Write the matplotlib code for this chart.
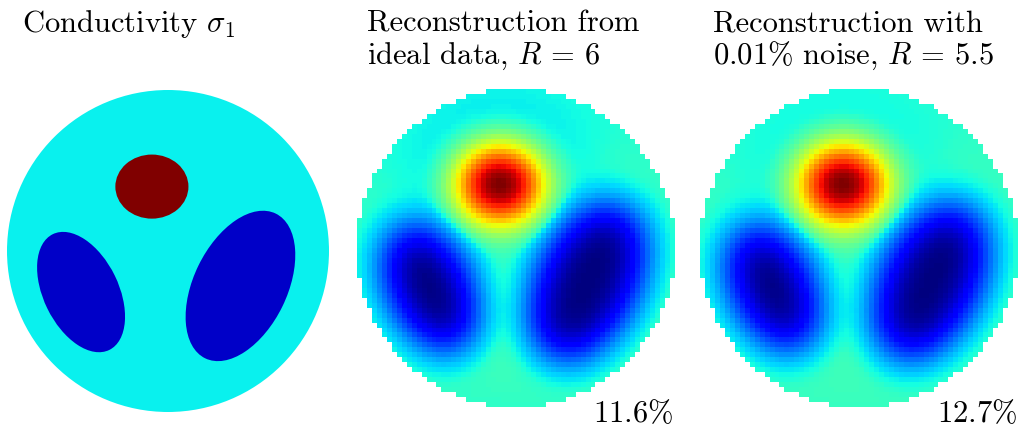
import numpy as np
import matplotlib.pyplot as plt
from matplotlib.patches import Circle, Ellipse

plt.rcParams['font.family'] = 'cmr10'
plt.rcParams['mathtext.fontset'] = 'cm'
plt.rcParams['axes.formatter.use_mathtext'] = True

# phantom sigma_1 on the unit disc: background + three elliptic inclusions
sigma_bg = 1.0
incl_x = [-0.10, -0.54, 0.45]
incl_y = [0.40, -0.255, -0.217]
incl_a = [0.227, 0.40, 0.50]      # semi-axis along incl_ang
incl_b = [0.199, 0.233, 0.29]
incl_ang = [0.0, 116.0, 64.0]     # degrees
incl_sigma = [2.0, 0.53, 0.53]
sigma_clim = (0.43, 2.0)

# reconstructions (low-pass of the phantom, 64x64 pixels)
n_pix = 64
blur_inner = [0.125, 0.13]
blur_outer = [0.30, 0.31]
ring = [0.35, 0.33]
neg_gamma = [0.75, 0.77]
pos_gamma = [0.75, 0.77]
bg_level = [0.39, 0.40]    # where sigma = 1 falls on each colour scale

titles = [["Conductivity $\\sigma_1$"],
          ["Reconstruction from", "ideal data, $R\\,=\\,6$"],
          ["Reconstruction with", "$0.01\\%$ noise, $R\\,=\\,5.5$"]]
errors = ["11.6", "12.7"]

W, H = 1021, 426
fig = plt.figure(figsize=(W / 100, H / 100), dpi=100)

# axes boxes in pixels: left, bottom, size
boxes = [(7, 14, 322), (357, 19, 318), (700, 19, 318)]
title_x = [22, 367, 713]
err_x = [673, 1017]

cmap = plt.get_cmap('jet')
norm = plt.Normalize(*sigma_clim)


def phantom(xx, yy):
    p = np.full(xx.shape, sigma_bg)
    for cx, cy, a, b, ang, s in zip(incl_x, incl_y, incl_a, incl_b, incl_ang, incl_sigma):
        t = np.deg2rad(ang)
        dx, dy = xx - cx, yy - cy
        u = dx * np.cos(t) + dy * np.sin(t)
        v = -dx * np.sin(t) + dy * np.cos(t)
        p[(u / a) ** 2 + (v / b) ** 2 <= 1] = s
    return p


def blur(img, x, s):
    h = x[1] - x[0]
    K = np.exp(-(x[:, None] - x[None, :]) ** 2 / (2 * s ** 2)) * h / (np.sqrt(2 * np.pi) * s)
    return K @ img @ K.T


sub = 4
nf = n_pix * sub
xf = -1 + (np.arange(nf) + 0.5) * 2 / nf
XX, YY = np.meshgrid(xf, xf)
delta = phantom(XX, YY) - sigma_bg
delta[XX ** 2 + YY ** 2 > 1] = 0

xc = -1 + (np.arange(n_pix) + 0.5) * 2 / n_pix
XC, YC = np.meshgrid(xc, xc)
outside = XC ** 2 + YC ** 2 > 1

axes = []
for (l, b, s) in boxes:
    ax = fig.add_axes([l / W, b / H, s / W, s / H])
    ax.set_xlim(-1, 1)
    ax.set_ylim(-1, 1)
    ax.set_axis_off()
    axes.append(ax)

# left: true conductivity
ax = axes[0]
ax.add_patch(Circle((0, 0), 1, color=cmap(norm(sigma_bg)), lw=0))
for cx, cy, a, b, ang, s in zip(incl_x, incl_y, incl_a, incl_b, incl_ang, incl_sigma):
    ax.add_patch(Ellipse((cx, cy), 2 * a, 2 * b, angle=ang, color=cmap(norm(s)), lw=0))

# middle / right: reconstructions
for k in range(2):
    r = (1 + ring[k]) * blur(delta, xf, blur_inner[k]) - ring[k] * blur(delta, xf, blur_outer[k])
    r = r.reshape(n_pix, sub, n_pix, sub).mean(axis=(1, 3))
    lo, hi = -r.min(), r.max()
    neg = r < 0
    r[neg] = -(-r[neg] / lo) ** neg_gamma[k]
    r[~neg] = (r[~neg] / hi) ** pos_gamma[k] * (1 - bg_level[k]) / bg_level[k]
    r = r + sigma_bg
    r[outside] = np.nan
    axes[k + 1].imshow(r, cmap='jet', extent=(-1, 1, -1, 1), origin='lower',
                       interpolation='nearest')
    fig.text(err_x[k] / W, 1 - 422 / H, "$" + errors[k] + "\\%$", fontsize=22,
             ha='right', va='baseline')

for tx, lines in zip(title_x, titles):
    for i, line in enumerate(lines):
        fig.text(tx / W, 1 - (32 + 31.5 * i) / H, line, fontsize=22, ha='left', va='baseline')

fig.savefig('out.png', dpi=100)
